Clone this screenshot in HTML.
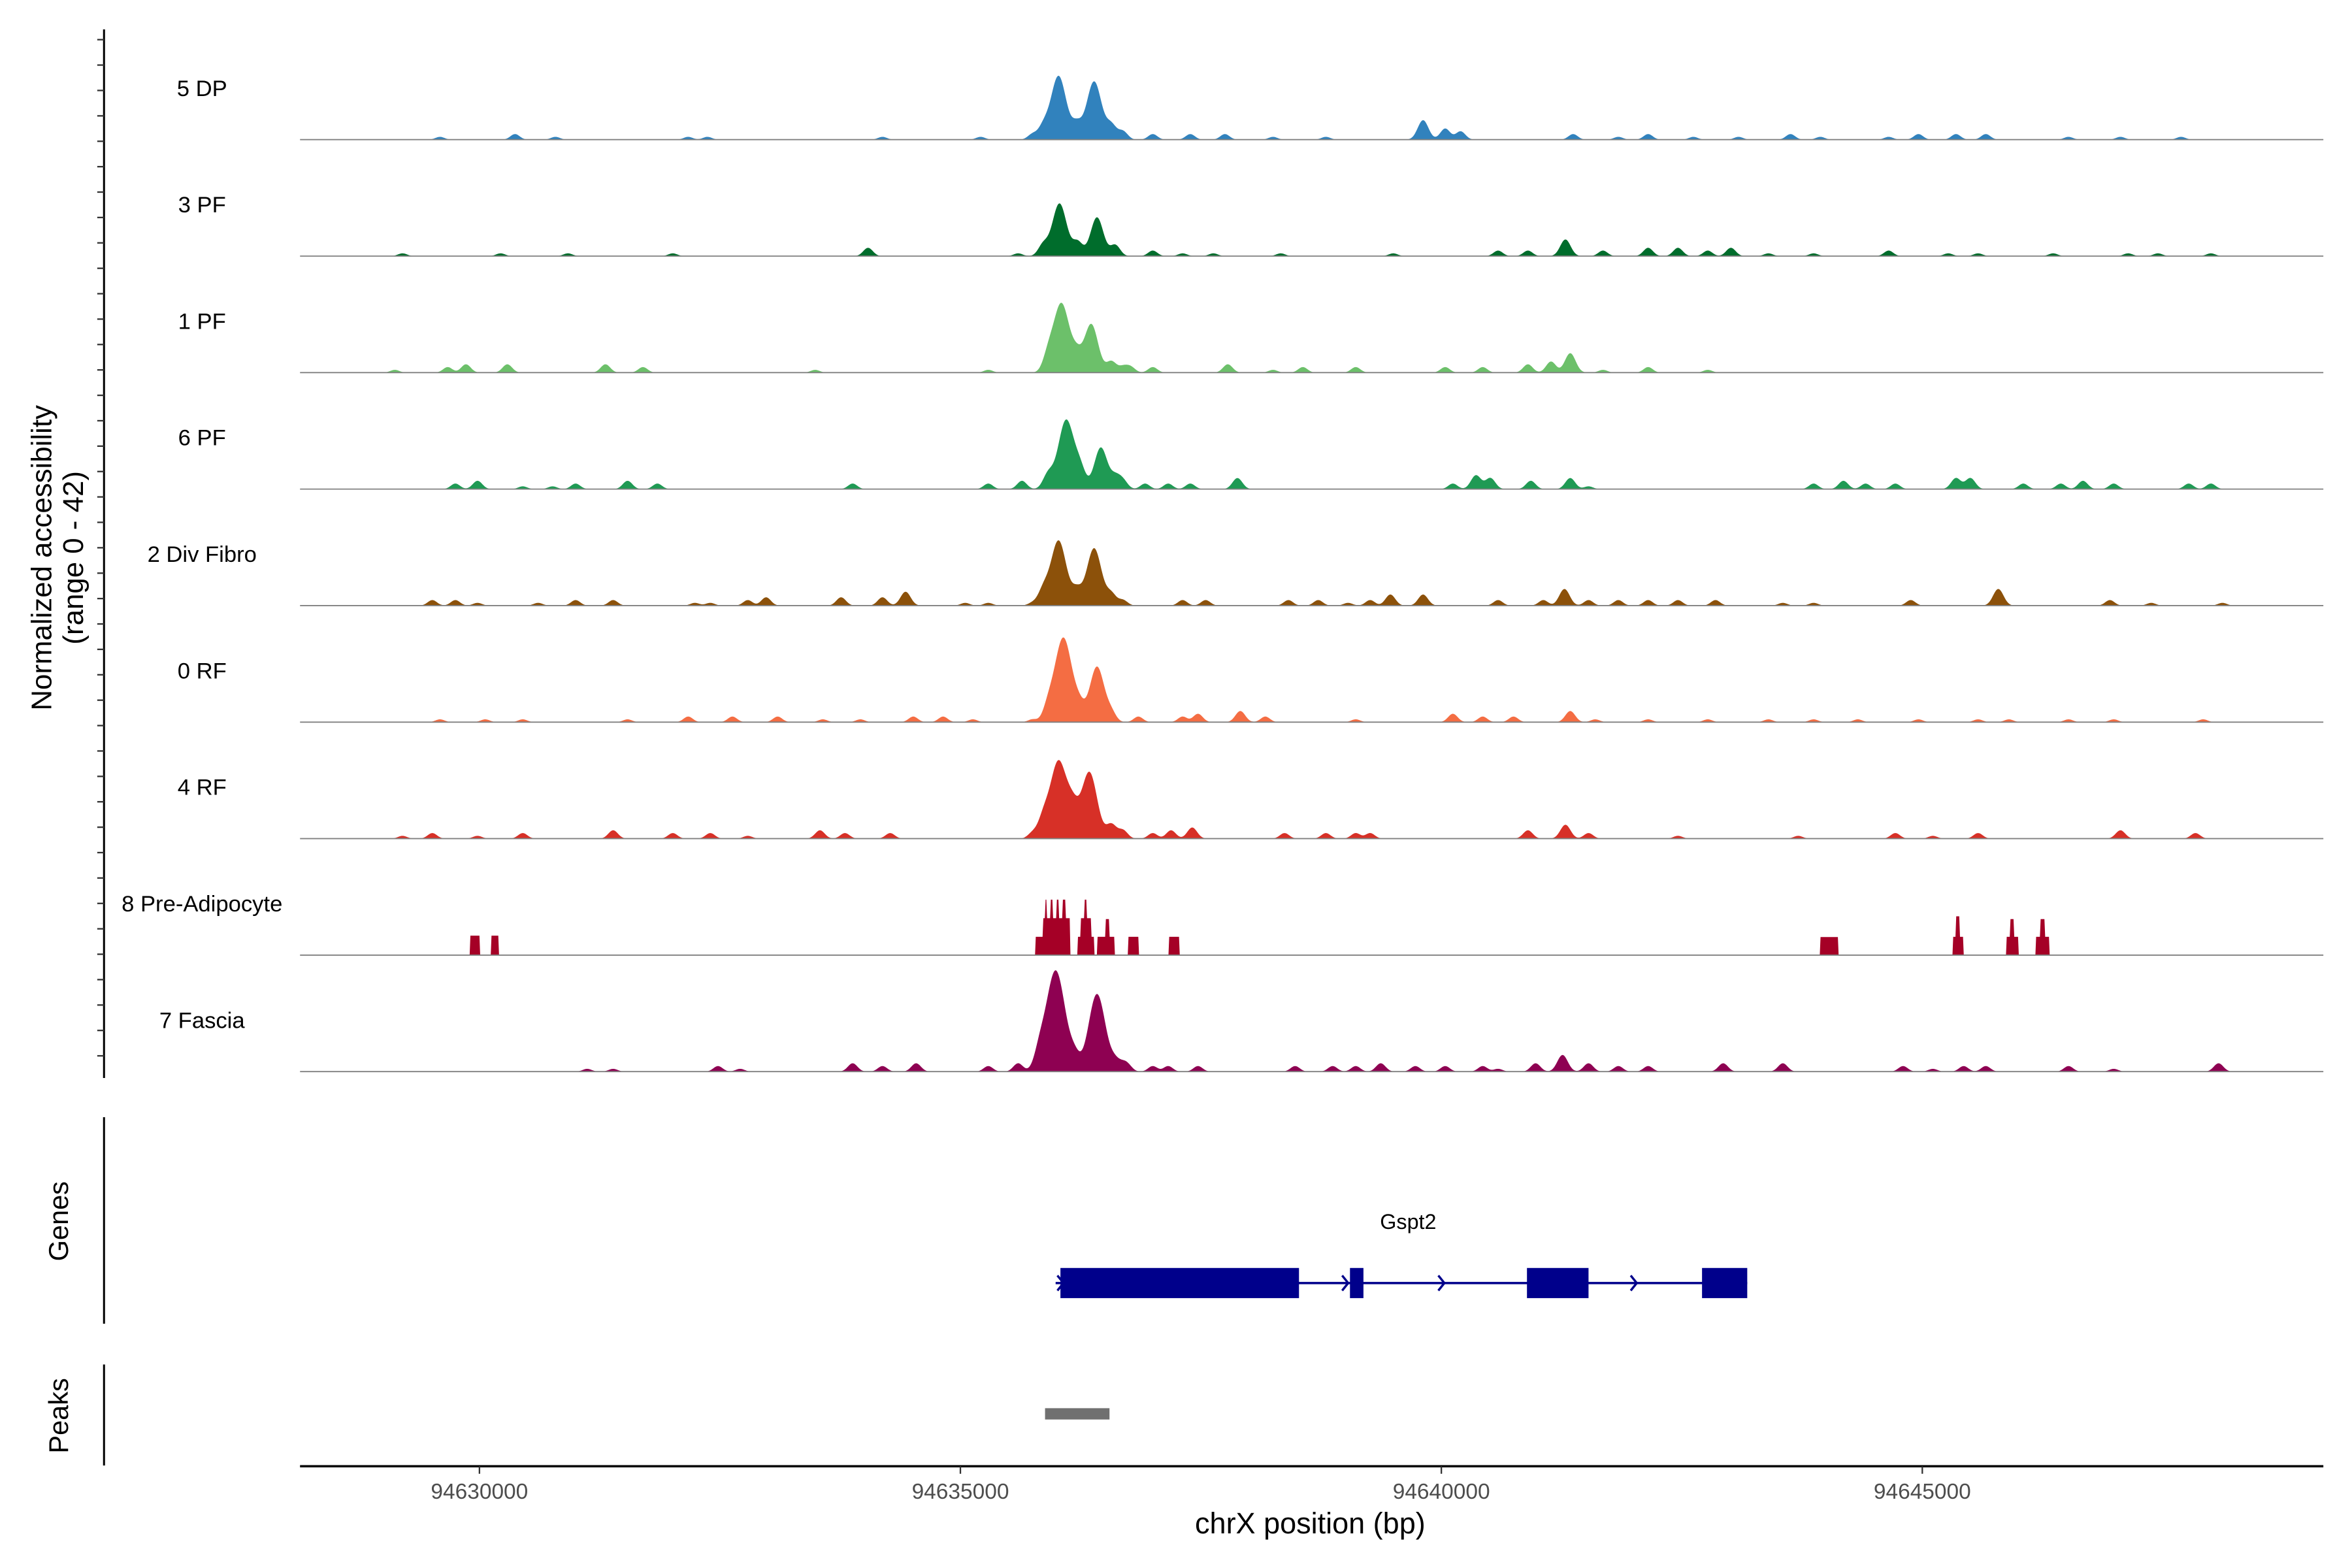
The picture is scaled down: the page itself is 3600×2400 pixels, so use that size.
<!DOCTYPE html>
<html><head><meta charset="utf-8"><style>
html,body{margin:0;padding:0;background:#fff;}
svg{display:block;font-family:"Liberation Sans",Arial,sans-serif;}
</style></head><body>
<svg id="chart" width="3600" height="2400" viewBox="0 0 1560 1040" xmlns="http://www.w3.org/2000/svg">
<g id="tracks"></g>
<g id="axes"></g>
</svg>
<script>
// positions in kb offset from chrX:94,630,000 ; heights in normalized accessibility (0-42)
const trackNames = ["5 DP","3 PF","1 PF","6 PF","2 Div Fibro","0 RF","4 RF","8 Pre-Adipocyte","7 Fascia"];
const trackColors = ["#3182bd","#006d2c","#6cc06a","#1f9a54","#8c510a","#f46d43","#d73027","#a50026","#8e0152"];
const pos5DP = [6.02,6.39,5.86,6.21,6.57,-0.41,0.37,0.79,2.17,2.37,4.19,5.21,5.75,6.69,7.0,7.39,7.75,8.25,8.80,9.81,10.04,10.20,11.37,11.84,12.15,12.62,13.09,13.63,13.94,14.65,14.96,15.35,15.66,16.52,17.06,17.69];
const ht5DP  = [23,21,4,5,5,1,2,1,1,1,1,1,2,3,2,2,2,1,1,7,4,3,2,1,2,1,1,2,1,1,2,2,2,1,1,1];
const pos3PF = [6.03,6.42,5.86,6.22,6.61,-0.80,0.22,0.92,2.01,4.04,5.60,7.0,7.31,7.63,8.33,9.50,10.59,10.90,11.29,11.68,12.15,12.46,12.77,13.01,13.40,13.87,14.65,15.27,15.58,16.36,17.14,17.45,18.0];
const ht3PF  = [19,14,4,5,4,1,1,1,1,3,1,2,1,1,1,1,2,2,6,2,3,3,2,3,1,1,2,1,1,1,1,1,1];
const pos1PF = [6.05,6.36,5.91,6.21,6.57,6.77,-0.88,-0.33,-0.14,0.29,1.31,1.70,3.49,5.29,6.69,7.0,7.78,8.25,8.56,9.11,10.04,10.43,10.90,11.14,11.34,11.68,12.15,12.77];
const ht1PF  = [25,17.5,5,5,4,2,1,2,3,3,3,2,1,1,2,2,3,1,2,2,2,2,3,4,7,1,2,1];
const pos6PF = [6.10,6.46,5.91,6.25,6.61,-0.25,-0.02,0.45,0.76,1.0,1.54,1.85,3.88,5.29,5.64,6.69,6.92,7.16,7.39,7.88,10.12,10.36,10.51,10.93,11.34,11.53,13.87,14.18,14.41,14.72,15.35,15.50,16.05,16.44,16.67,16.99,17.77,18.0];
const ht6PF  = [25,15,5,6,4,2,3,1,1,2,3,2,2,2,3,3,2,2,2,4,2,5,4,3,4,1,2,3,2,2,4,4,2,2,3,2,2,2];
const posDiv = [6.02,6.39,5.86,6.21,6.57,-0.49,-0.25,-0.02,0.61,1.0,1.39,2.24,2.40,2.79,2.98,3.76,4.19,4.43,5.05,5.29,5.75,6.69,7.31,7.55,8.41,8.72,9.03,9.26,9.47,9.81,10.59,11.06,11.28,11.53,11.84,12.15,12.46,12.85,13.55,13.87,14.88,15.79,16.95,17.38,18.12];
const htDiv  = [23.5,20.7,5,5,4,2,2,1,1,2,2,1,1,2,3,3,3,5,1,1,1,2,2,2,2,2,1,2,4,4,2,2,6,2,2,2,2,2,1,1,2,6,2,1,1];
const pos0RF = [6.07,6.42,5.91,6.24,6.57,-0.41,0.06,0.45,1.54,2.17,2.63,3.10,3.57,3.96,4.51,4.82,5.13,5.75,6.85,7.31,7.47,7.91,8.17,9.11,10.12,10.43,10.75,11.34,11.60,12.15,12.77,13.40,13.87,14.33,14.96,15.58,15.90,16.52,16.99,17.92];
const ht0RF  = [30.5,20,4,4,3,1,1,1,1,2,2,2,1,1,2,2,1,1,2,2,3,4,2,1,3,2,2,4,1,1,1,1,1,1,1,1,1,1,1,1];
const pos4RF = [6.02,6.34,5.86,6.17,6.57,-0.80,-0.49,-0.02,0.45,1.39,2.01,2.40,2.79,3.54,3.80,4.27,5.75,6.69,7.0,7.19,7.41,8.37,8.80,9.11,9.26,10.90,11.29,11.53,12.46,13.71,14.72,15.11,15.58,17.06,17.84];
const ht4RF  = [28,24,6,8,5,1,2,1,2,3,2,2,1,3,2,2,2,3,2,3,4,2,2,2,2,3,5,2,1,1,2,1,2,3,2];
const posFas = [5.99,6.42,5.82,6.19,6.61,6.74,1.12,1.39,2.48,2.71,3.88,4.19,4.54,5.29,5.60,6.69,7.0,7.16,7.47,8.48,8.87,9.11,9.37,9.73,10.04,10.43,10.59,10.98,11.26,11.53,11.84,12.15,12.93,13.55,14.80,15.11,15.43,15.66,16.52,16.99,18.08];
const htFas  = [36.5,28,5,4,3,2,1,1,2,1,3,2,3,2,3,2,2,2,2,2,2,2,3,2,2,2,1,3,6,3,2,2,3,3,2,1,2,2,2,1,3];
// 8 Pre-Adipocyte: blocky coverage (start kb, end kb, height)
const blkStart = [5.78,5.86,5.88,5.94,6.00,6.06,6.22,6.25,6.29,6.42,6.51,6.74,7.17,-0.10,0.12,13.94,15.32,15.35,15.87,15.91,16.18,16.23];
const blkEnd   = [6.14,6.14,5.90,5.96,6.02,6.09,6.39,6.36,6.31,6.60,6.55,6.85,7.28,0.00,0.20,14.13,15.43,15.39,16.00,15.95,16.32,16.27];
const blkHt    = [6.6,13.3,20,20,20,20,6.6,13.3,20,6.6,13,6.6,6.6,7,7,6.5,6.6,14,6.6,13,6.6,13];
const trackPos = [pos5DP,pos3PF,pos1PF,pos6PF,posDiv,pos0RF,pos4RF,null,posFas];
const trackHt  = [ht5DP,ht3PF,ht1PF,ht6PF,htDiv,ht0RF,ht4RF,null,htFas];
const xTicks = [0,5,10,15];
const xTickLabels = ["94630000","94635000","94640000","94645000"];
const exonStart = [6.04,9.05,10.89,12.71];
const exonEnd   = [8.52,9.19,11.53,13.18];
const geneStart = 5.99, geneEnd = 13.18;
const strandArrows = [6.04,9.0,10.0,12.0];
const peakStart = [5.88], peakEnd = [6.55];
const yMax = 42;

const NS="http://www.w3.org/2000/svg";
const X0=318, KX=63.8, LEFT=199, RIGHT=1541, B0=92.6, TH=77.27;
function xs(kb){return X0+kb*KX;}
function ys(i,v){return B0+i*TH - Math.min(v,yMax)*(TH/yMax);}
function mk(tag,attrs,parent){const e=document.createElementNS(NS,tag);for(const k in attrs)e.setAttribute(k,attrs[k]);parent.appendChild(e);return e;}
const tracks=document.getElementById('tracks'), axes=document.getElementById('axes');

trackNames.forEach((name,i)=>{
  const g=mk('g',{},tracks);
  
  
  const base=B0+i*TH;
  let d='M'+LEFT+','+base;
  for(let px=LEFT;px<=RIGHT;px+=0.5){
    const kb=(px-X0)/KX;
    let v=0;
    if(trackPos[i]){
      const P=trackPos[i],H=trackHt[i];
      for(let j=0;j<P.length;j++){const s=0.045+0.0015*H[j];const z=(kb-P[j])/s;if(Math.abs(z)<4)v+=H[j]*Math.exp(-z*z/2);}
    } else {
      for(let j=0;j<blkStart.length;j++){if(kb>=blkStart[j]&&kb<=blkEnd[j])v=Math.max(v,blkHt[j]);}
    }
    d+='L'+px+','+ys(i,v).toFixed(2);
  }
  d+='L'+RIGHT+','+base+'Z';
  const p=mk('path',{d:d,fill:trackColors[i],stroke:'none'},g);
  
  
  const bl=mk('line',{x1:LEFT,x2:RIGHT,y1:base,y2:base,stroke:'#808080','stroke-width':0.8},g);
  
  
  const t=mk('text',{x:134,y:base-29,'text-anchor':'middle','font-size':15,fill:'#000'},g);
  t.textContent=name;
  
  
});

// left axes
const ya=mk('line',{x1:69,x2:69,y1:19.5,y2:715,stroke:'#000','stroke-width':1.3},axes);


for(let y=26.3;y<=715;y+=16.85){
  const tk=mk('line',{x1:64.5,x2:69,y1:y,y2:y,stroke:'#333','stroke-width':1},axes);
  
  
}
const yt=mk('text',{transform:'translate(34,370) rotate(-90)','text-anchor':'middle','font-size':19,fill:'#000'},axes);


yt.innerHTML='<tspan x="0" dy="0">Normalized accessibility</tspan><tspan x="0" dy="21">(range 0 - 42)</tspan>';

// genes panel
const gl=mk('line',{x1:69,x2:69,y1:741,y2:878,stroke:'#000','stroke-width':1.3},axes);


const gt=mk('text',{transform:'translate(45,810) rotate(-90)','text-anchor':'middle','font-size':18,fill:'#000'},axes);
gt.textContent='Genes';


const gg=mk('g',{},axes);


mk('line',{x1:xs(geneStart),x2:xs(geneEnd),y1:851,y2:851,stroke:'#00008b','stroke-width':1.5},gg);
strandArrows.forEach(a=>{
  const ar=mk('path',{d:'M'+(xs(a)-2)+',846L'+(xs(a)+2)+',851L'+(xs(a)-2)+',856',fill:'none',stroke:'#00008b','stroke-width':1.5},gg);
  
  
});
exonStart.forEach((s,j)=>{
  const r=mk('rect',{x:xs(s),y:841,width:xs(exonEnd[j])-xs(s),height:20,fill:'#00008b'},gg);
  
  
});
const gn=mk('text',{x:934,y:815,'text-anchor':'middle','font-size':14,fill:'#000'},gg);
gn.textContent='Gspt2';



// peaks panel
const pl=mk('line',{x1:69,x2:69,y1:905,y2:972,stroke:'#000','stroke-width':1.3},axes);


const pt=mk('text',{transform:'translate(45,939) rotate(-90)','text-anchor':'middle','font-size':18,fill:'#000'},axes);
pt.textContent='Peaks';


peakStart.forEach((s,j)=>{
  const r=mk('rect',{x:xs(s),y:934,width:xs(peakEnd[j])-xs(s),height:7.5,fill:'#707070'},axes);
  
  
});

// x axis
const xa=mk('line',{x1:LEFT,x2:RIGHT,y1:972.5,y2:972.5,stroke:'#000','stroke-width':1.5},axes);


xTicks.forEach((t,j)=>{
  const tk=mk('line',{x1:xs(t),x2:xs(t),y1:972.5,y2:977.5,stroke:'#333','stroke-width':1},axes);
  
  
  const lb=mk('text',{x:xs(t),y:994,'text-anchor':'middle','font-size':14.5,fill:'#4d4d4d'},axes);
  lb.textContent=xTickLabels[j];
  
  
});
const xt=mk('text',{x:869,y:1017,'text-anchor':'middle','font-size':19.5,fill:'#000'},axes);
xt.textContent='chrX position (bp)';


</script>
</body></html>
